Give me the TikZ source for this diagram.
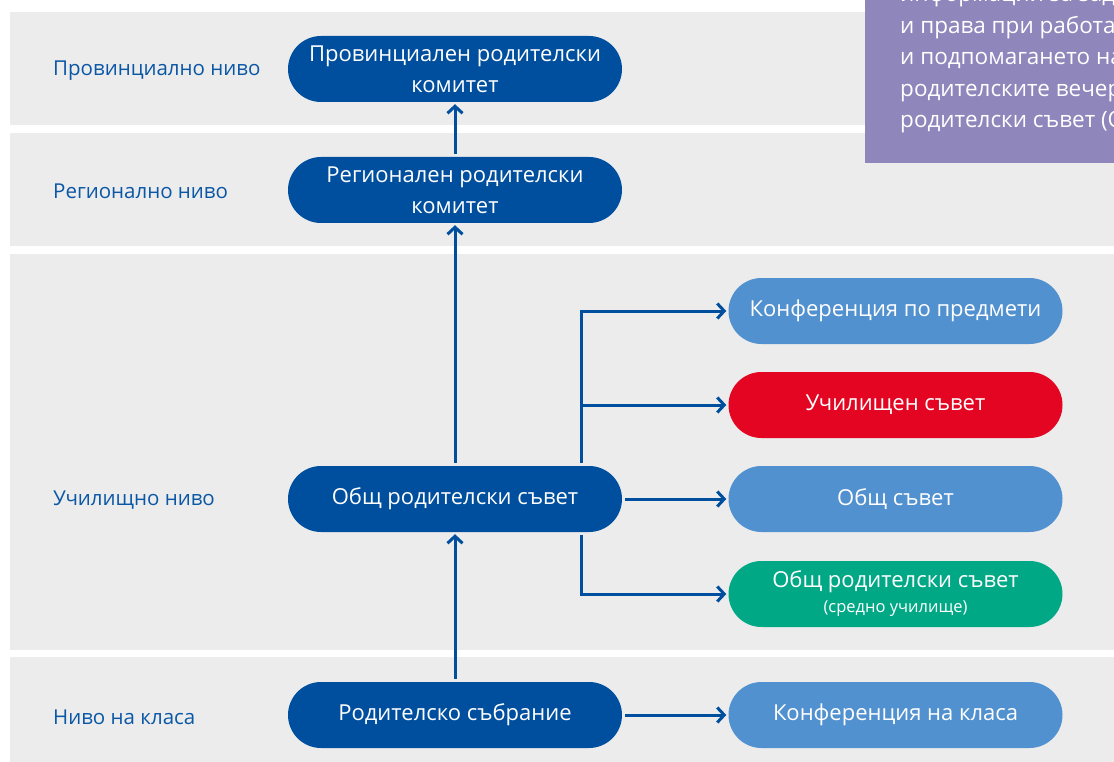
\documentclass[tikz,border=0pt]{standalone}
\usepackage{fontspec}
\setmainfont{Open Sans}
\usetikzlibrary{arrows.meta}

\definecolor{darkblue}{HTML}{004F9E}
\definecolor{lightblue}{HTML}{5291CF}
\definecolor{schoolred}{HTML}{E30521}
\definecolor{seagreen}{HTML}{00A886}
\definecolor{bandgray}{HTML}{ECECEC}
\definecolor{notepurple}{HTML}{8F86BC}
\definecolor{levelblue}{HTML}{0A57A6}

\begin{document}
\begin{tikzpicture}[x=1pt,y=-1pt,
    band/.style={fill=bandgray,draw=none},
    pill/.style={rounded corners=33pt,minimum width=334pt,minimum height=66pt,inner sep=0pt,
      text=white,align=center,font=\fontsize{22}{31}\selectfont},
    level/.style={anchor=west,inner sep=0pt,text=levelblue,font=\fontsize{20.5}{24}\selectfont},
    notetext/.style={anchor=base west,text=white,inner sep=0pt,font=\fontsize{22.5}{33}\selectfont},
    conn/.style={draw=darkblue,line width=3pt,-{Straight Barb[length=7pt,width=15pt]},
      shorten <=3pt,shorten >=2pt}]
      \useasboundingbox[fill=white] (0,0) rectangle (1114,762);
      \fill[band] (10,12) rectangle (1114,125);
      \fill[band] (10,133) rectangle (1114,246);
      \fill[band] (10,254) rectangle (1114,650);
      \fill[band] (10,657) rectangle (1114,762);
\begin{scope}
      \clip (865,0) rectangle (1114,163);
      \fill[notepurple] (865,0) rectangle (1114,163);
      \foreach \txt [count=\i] in {информации за задълженията, и права при работата,
        и подпомагането на, родителските вечери, родителски съвет (ОРС)}
\node[notetext] (note\i) at (900,{2+31.5*(\i-1)}) {\txt};
\end{scope}
\node [level] (lprov) at (53,71) {Провинциално ниво};
\node [level] (lreg) at (53,191) {Регионално ниво};
\node [level] (lschool) at (53,500) {Училищно ниво};
\node [level] (lclass) at (53,717) {Ниво на класа};
\node [pill,fill=darkblue] (prov) at (455,69) {Провинциален родителски\\комитет};
\node [pill,fill=darkblue] (reg) at (455,190) {Регионален родителски\\комитет};
\node [pill,fill=darkblue] (gpc) at (455,499) {Общ родителски съвет};
\node [pill,fill=darkblue] (meet) at (455,715) {Родителско събрание};
\node [pill,fill=lightblue] (subj) at (895.5,311) {Конференция по предмети};
\node [pill,fill=schoolred] (school) at (895.5,405) {Училищен съвет};
\node [pill,fill=lightblue] (gen) at (895.5,499) {Общ съвет};
\node [pill,fill=seagreen] (gpcs) at (895.5,594) {Общ родителски съвет\\[-6pt]{\fontsize{16.5}{20}\selectfont (средно училище)}};
\node [pill,fill=lightblue] (cconf) at (895.5,715) {Конференция на класа};
      \draw[conn] (reg) -- (prov);
      \draw[conn] (gpc) -- (reg);
      \draw[conn] (meet) -- (gpc);
      \draw[conn] (gpc) -- (gen);
      \draw[conn] (meet) -- (cconf);
      \draw[conn] ([xshift=126pt]gpc.north) |- (subj.west);
      \draw[conn] ([xshift=126pt]gpc.north) |- (school.west);
      \draw[conn] ([xshift=126pt]gpc.south) |- (gpcs.west);
    \end{tikzpicture}
\end{document}
